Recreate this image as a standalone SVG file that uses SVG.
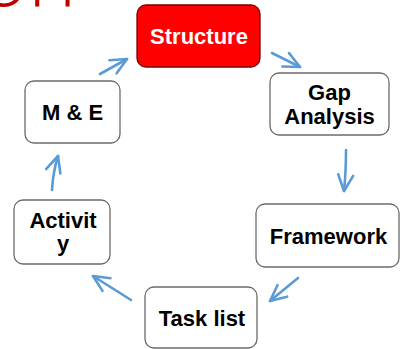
<svg xmlns="http://www.w3.org/2000/svg" width="403" height="349" viewBox="0 0 403 349">
<style>
.box{fill:#ffffff;stroke:#6b6b6b;stroke-width:1.3}
.lbl{font-family:"Liberation Sans",Arial,sans-serif;font-weight:bold;font-size:22px;fill:#000;text-anchor:middle}
.conn{fill:none;stroke:#5b9bd5;stroke-width:2.6;stroke-linecap:round;marker-end:url(#ah)}
</style>
<defs>
<marker id="ah" viewBox="0 0 20 20" refX="18" refY="10" markerWidth="20" markerHeight="20" markerUnits="userSpaceOnUse" orient="auto">
<path d="M2,2.5 L18,10 L2,17.5" fill="none" stroke="#5b9bd5" stroke-width="2.6" stroke-linecap="round" stroke-linejoin="round"/>
</marker>
</defs>
<rect width="403" height="349" fill="#ffffff"/>
<text x="-20" y="6" font-family="'Open Sans',sans-serif" font-weight="300" font-size="82" fill="#c00000">on</text>
<g id="structure">
<rect x="137" y="5" width="123" height="62" rx="9" fill="#ff0000" stroke="#7a0000" stroke-width="1.3"/>
<text class="lbl" x="199" y="44" style="fill:#ffffff">Structure</text>
</g>
<g id="gap-analysis">
<rect class="box" x="270" y="73" width="119" height="62" rx="9"/>
<text class="lbl" x="329.5" y="100">Gap</text>
<text class="lbl" x="329.5" y="124">Analysis</text>
</g>
<g id="framework">
<rect class="box" x="256" y="204" width="143" height="63" rx="9"/>
<text class="lbl" x="328.5" y="244">Framework</text>
</g>
<g id="task-list">
<rect class="box" x="145" y="287" width="112" height="61" rx="9"/>
<text class="lbl" x="202" y="326">Task list</text>
</g>
<g id="activity">
<rect class="box" x="14" y="200" width="96" height="64" rx="9"/>
<text class="lbl" x="63" y="228">Activit</text>
<text class="lbl" x="63" y="251">y</text>
</g>
<g id="m-and-e">
<rect class="box" x="25" y="81" width="95" height="62" rx="9"/>
<text class="lbl" x="72.5" y="120">M &amp; E</text>
</g>
<g id="connectors">
<path class="conn" d="M100,74 L127,59"/>
<path class="conn" d="M272,53 L300,67"/>
<path class="conn" d="M346,150 Q346,172 344,191"/>
<path class="conn" d="M298,278 L270,301"/>
<path class="conn" d="M131,300 L93,276"/>
<path class="conn" d="M52,190 Q53,172 58,156"/>
</g>
</svg>
